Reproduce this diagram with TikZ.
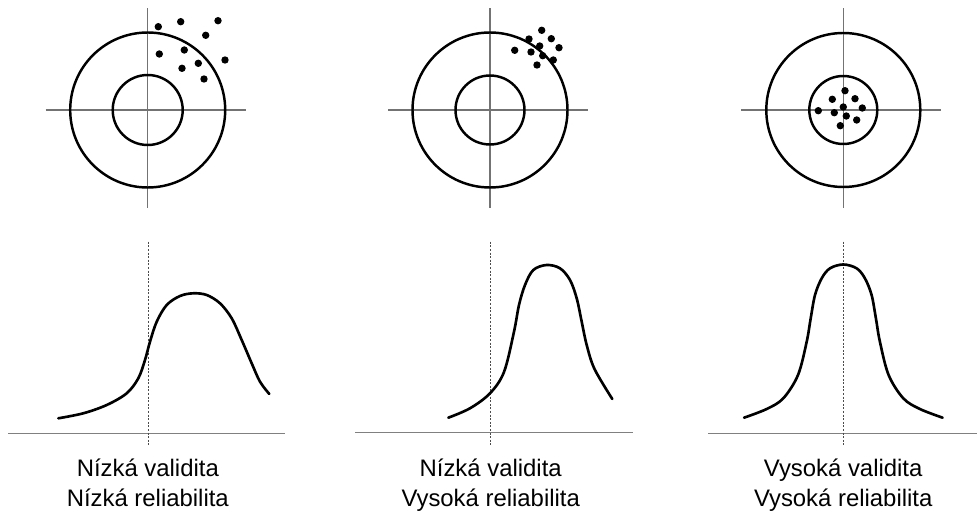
\documentclass[tikz,border=0pt]{standalone}
\usepackage{fontspec}
\setmainfont{Liberation Sans}
\begin{document}
\begin{tikzpicture}[
    x=0.02cm, y=-0.02cm,
    lbl/.style={font=\fontsize{13.6}{16}\selectfont, anchor=base, inner sep=0pt},
    ring/.style={line width=1.4pt},
    cross/.style={draw=black!55, line width=0.6pt},
    axis/.style={draw=black!50, line width=0.6pt},
    guide/.style={draw=black!70, line width=0.45pt, dash pattern=on 1.15pt off 0.9pt},
    bell/.style={line width=1.5pt, line cap=round, smooth, tension=0.55},
    dot/.style={radius=3.7}
]
\useasboundingbox (0,0) rectangle (977,513);

\coordinate (t1) at (147.7,110);
\coordinate (t2) at (490,110);
\coordinate (t3) at (843.3,110);

\draw[cross] (45.7,110) -- (245.7,110); \draw[cross] (147.7,8) -- (147.7,208);
\draw[cross] (388,110) -- (588,110); \draw[cross] (490,8) -- (490,208);
\draw[cross] (741.3,110) -- (941.3,110); \draw[cross] (843.3,8) -- (843.3,208);

\draw[ring] (t1) circle[radius=77.5]; \draw[ring] (t1) circle[radius=35];
\draw[ring] (t2) circle[radius=77.5]; \draw[ring] (t2) circle[radius=34.5];
\draw[ring] (t3) circle[radius=77]; \draw[ring] (t3) circle[radius=34];

\fill[dot] (158.3,26.7) circle[] (180.7,21.7) circle[] (218,20.7) circle[]
    (205.7,35.3) circle[] (159.3,54) circle[] (184.3,50) circle[]
    (198.3,63.3) circle[] (225,60) circle[] (182,68.3) circle[] (204,79) circle[];
\fill[dot] (541.7,30.3) circle[] (529,39) circle[] (551.3,38.7) circle[]
    (539.7,46) circle[] (559,47.7) circle[] (514.7,50.3) circle[]
    (531,52) circle[] (542.7,55.7) circle[] (553.3,60) circle[] (537,65) circle[];
\fill[dot] (845,90.7) circle[] (832.3,99.3) circle[] (855,98.7) circle[]
    (818.3,110.7) circle[] (834.3,112.7) circle[] (843.3,107) circle[]
    (862.3,108) circle[] (846.3,116) circle[] (856.7,120) circle[] (840.3,125.7) circle[];

\draw[axis] (8.3,433.3) -- (285,433.3);
\draw[axis] (355,432.7) -- (632.7,432.7);
\draw[axis] (708.3,433.3) -- (977,433.3);

\draw[guide] (148.3,241.7) -- (148.3,446.7);
\draw[guide] (490.7,241.7) -- (490.7,446.7);
\draw[guide] (843.3,241.7) -- (843.3,446.7);

\draw[bell] plot coordinates {(58.3,418.3) (83.3,413.3) (106.7,405) (126.7,393.3)
    (138.3,378.3) (145,360) (150,341.7) (156.7,321.7) (166.7,305) (180,296)
    (193.3,293.3) (206.7,295) (220,303.3) (231.7,318.3) (241.7,340)
    (251.7,363.3) (260,381.7) (269.3,394)};
\draw[bell] plot coordinates {(448.3,417.7) (470,408.3) (490,393.3)
    (504,372) (514,331.7) (519,305) (525,285) (533.3,270) (546.7,265)
    (560,268.3) (570,280) (576.7,298.3) (581.7,321.7) (586.7,345)
    (594.5,369) (612.3,399)};
\draw[bell] plot coordinates {(744,417.7) (766.7,409) (783.3,398.3)
    (798,375) (806.7,341.7) (810.7,318.3) (815,295) (821.7,278.3) (830,268.3)
    (843.3,264.5) (856.6,268.3) (864.9,278.3) (871.6,295) (875.9,318.3)
    (879.9,341.7) (888.6,375) (903.3,398.3) (919.9,409) (942.6,417.7)};

\node[lbl] (val1) at (147.8,476.7) {Nízká validita};
\node[lbl] (rel1) at (147.8,506) {Nízká reliabilita};
\node[lbl] (val2) at (490.7,476.7) {Nízká validita};
\node[lbl] (rel2) at (490.7,506) {Vysoká reliabilita};
\node[lbl] (val3) at (843.2,476.7) {Vysoká validita};
\node[lbl] (rel3) at (843.2,506) {Vysoká reliabilita};
\end{tikzpicture}
\end{document}
